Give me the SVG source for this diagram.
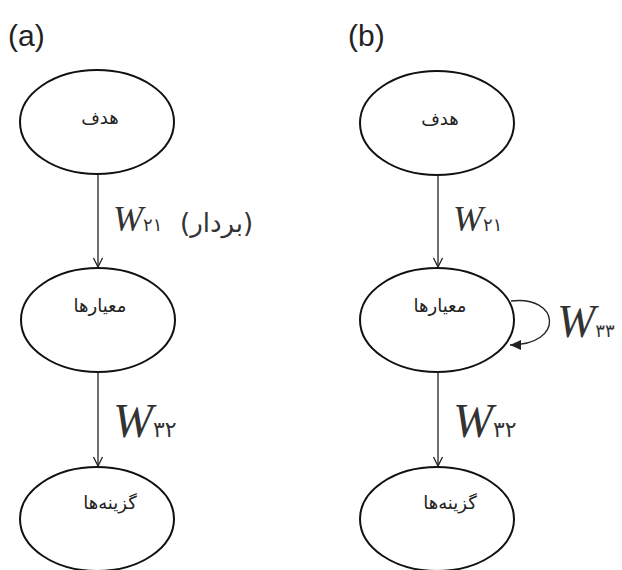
<svg xmlns="http://www.w3.org/2000/svg" width="622" height="570" viewBox="0 0 622 570">
<defs>
<marker id="ah" markerWidth="12" markerHeight="12" refX="10" refY="6" orient="auto" markerUnits="userSpaceOnUse">
<path d="M1,1.5 L10,6 L1,10.5" fill="none" stroke="#222" stroke-width="1.3"/>
</marker>
<marker id="ahf" markerWidth="14" markerHeight="12" refX="11" refY="6" orient="auto" markerUnits="userSpaceOnUse">
<path d="M0,1 L11,6 L0,11 Z" fill="#222"/>
</marker>
</defs>
<style>
.node ellipse{fill:none;stroke:#111;stroke-width:2}
.lbl{font-family:"DejaVu Sans",sans-serif;font-size:18px;fill:#222;text-anchor:middle}
.edge{fill:none;stroke:#222;stroke-width:1.3}
.w{font-family:"Liberation Serif",serif;font-style:italic;fill:#333}
.sub{font-family:"DejaVu Sans",sans-serif;fill:#333}
.pan{font-family:"Liberation Sans",sans-serif;font-size:30px;fill:#222}
</style>
<rect width="622" height="570" fill="#fff"/>
<text class="pan" x="8" y="46">(a)</text>
<text class="pan" x="348" y="46">(b)</text>
<g id="a-goal" class="node"><ellipse cx="97" cy="122" rx="77" ry="52"/><text class="lbl" x="100" y="124">هدف</text></g>
<g id="a-criteria" class="node"><ellipse cx="98" cy="320" rx="77" ry="52"/><text class="lbl" x="100" y="312">معیارها</text></g>
<g id="a-alts" class="node"><ellipse cx="97" cy="519" rx="77" ry="52"/><text class="lbl" x="110" y="509">گزینه‌ها</text></g>
<g id="b-goal" class="node"><ellipse cx="437" cy="123" rx="77" ry="52"/><text class="lbl" x="440" y="125">هدف</text></g>
<g id="b-criteria" class="node"><ellipse cx="437" cy="320" rx="77" ry="52"/><text class="lbl" x="440" y="312">معیارها</text></g>
<g id="b-alts" class="node"><ellipse cx="437" cy="519" rx="77" ry="52"/><text class="lbl" x="450" y="509">گزینه‌ها</text></g>
<g id="connectors">
<line class="edge" x1="98" y1="174" x2="98" y2="267" marker-end="url(#ah)"/>
<line class="edge" x1="98" y1="372" x2="98" y2="466" marker-end="url(#ah)"/>
<line class="edge" x1="438" y1="175" x2="438" y2="267" marker-end="url(#ah)"/>
<line class="edge" x1="438" y1="372" x2="438" y2="466" marker-end="url(#ah)"/>
<path class="edge" d="M511,301 C560,295 565,345 510,345" stroke-width="2" marker-end="url(#ahf)"/>
</g>
<g id="edge-labels">
<text x="113" y="231"><tspan class="w" font-size="36">W</tspan><tspan class="sub" font-size="18">۲۱</tspan></text>
<text x="180" y="232" font-family="DejaVu Sans, sans-serif" font-size="26" fill="#333">(بردار)</text>
<text x="113" y="437"><tspan class="w" font-size="48">W</tspan><tspan class="sub" font-size="22">۳۲</tspan></text>
<text x="453" y="231"><tspan class="w" font-size="36">W</tspan><tspan class="sub" font-size="18">۲۱</tspan></text>
<text x="453" y="437"><tspan class="w" font-size="48">W</tspan><tspan class="sub" font-size="22">۳۲</tspan></text>
<text x="557" y="337"><tspan class="w" font-size="46">W</tspan><tspan class="sub" font-size="18">۳۳</tspan></text>
</g>
</svg>
